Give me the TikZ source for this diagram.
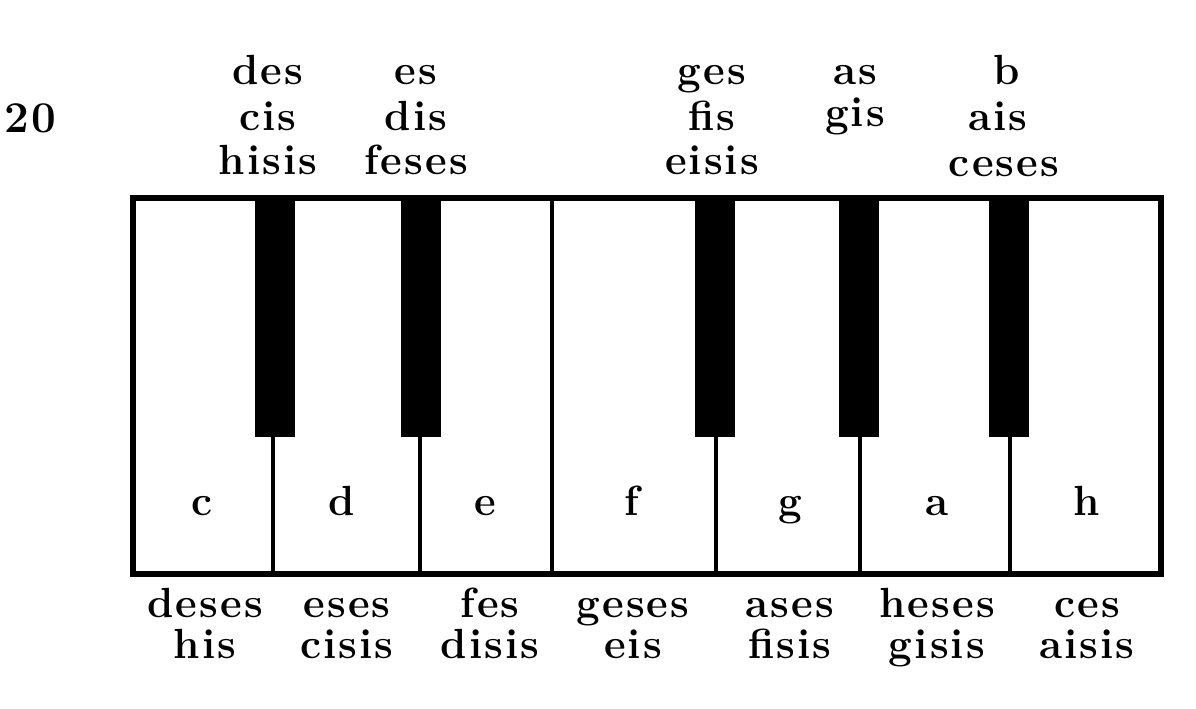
\documentclass[tikz,border=0pt]{standalone}
\usepackage{fontspec}
\setmainfont{Latin Modern Roman}[LetterSpace=5]
\begin{document}
\begin{tikzpicture}[x=0.1mm,y=-0.1mm,
    lbl/.style={font=\fontsize{12}{12}\selectfont\bfseries, anchor=base, inner sep=0pt},
    keyline/.style={line width=1.1pt},
    blackkey/.style={fill=black}]
    \useasboundingbox (0,0) rectangle (1196,708);

    \node[lbl, font=\fontsize{12.5}{12}\selectfont\bfseries] (num) at (30,132) {20};

    % keyboard frame and white keys
    \draw[line width=1.5pt] (133,198) rectangle (1161,574);
    \draw[keyline] (552,198) -- (552,574);
    \foreach \x in {273,420,716,860,1010} {
        \draw[keyline] (\x,437) -- (\x,574);
    }

    % black keys
    \foreach \x in {275,421,715,859,1009} {
        \fill[blackkey] (\x-20,198) rectangle (\x+20,437);
    }

    % names of the white keys
    \foreach \x/\n in {202/c,342/d,485/e,632/f,790/g,937/a,1087/h} {
        \node[lbl] (key-\n) at (\x,515) {\n};
    }

    % names of the black keys
    \foreach \x/\a/\b/\c in {268/des/cis/hisis,416/es/dis/feses,712/ges/fis/eisis} {
        \node[lbl] (top-\b-1) at (\x,84) {\a};
        \node[lbl] (top-\b-2) at (\x,130) {\b};
        \node[lbl] (top-\b-3) at (\x,174) {\c};
    }
    \node[lbl] (top-gis-1) at (855,84) {as};
    \node[lbl] (top-gis-2) at (855,126) {gis};
    \node[lbl] (top-ais-1) at (1007,84) {b};
    \node[lbl] (top-ais-2) at (998,130) {ais};
    \node[lbl] (top-ais-3) at (1004,176) {ceses};

    % other names under the white keys
    \foreach \x/\a/\b in {205/deses/his,347/eses/cisis,490/fes/disis,633/geses/eis,790/ases/fisis,937/heses/gisis,1087/ces/aisis} {
        \node[lbl] (bot-\b-1) at (\x,617) {\a};
        \node[lbl] (bot-\b-2) at (\x,658) {\b};
    }
\end{tikzpicture}
\end{document}
